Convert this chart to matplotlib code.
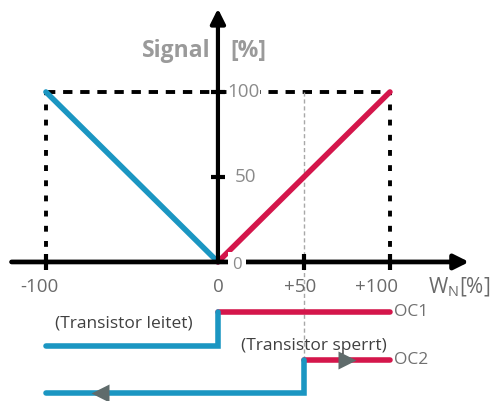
import matplotlib.pyplot as plt

plt.rcParams['font.family'] = ['Open Sans', 'DejaVu Sans']
plt.rcParams['mathtext.fontset'] = 'custom'
plt.rcParams['mathtext.rm'] = 'Open Sans'

blue = '#1b96c2'
red = '#d4164b'
grey_txt = '#8a8a8a'
arrow_grey = '#5f6b6b'

# characteristic: signal over W_N
wn_neg = [-100, 0]
sig_neg = [100, 0]
wn_pos = [0, 100]
sig_pos = [0, 100]

x_ticks = [-100, 0, 50, 100]
x_labels = ['-100', '0', '+50', '+100']
y_ticks = [50, 100]
y_labels = ['50', '100']

# switching points of the two outputs
oc1_switch = 0
oc2_switch = 50
wn_min, wn_max = -100, 100

fig = plt.figure(figsize=(5.04, 4.01), dpi=100)
ax = fig.add_axes([0, 0, 1, 1])
ax.set_xlim(-126.7, 166.3)
ax.set_ylim(-81.8, 154.1)
ax.axis('off')

# frame of dotted lines
ax.plot([wn_min, wn_max], [100, 100], color='black', lw=2.8, ls=(0, (2.4, 2.0)))
ax.plot([wn_min, wn_min], [0, 100], color='black', lw=2.8, ls=(0, (1.5, 2.4)))
ax.plot([wn_max, wn_max], [0, 100], color='black', lw=2.8, ls=(0, (1.5, 2.4)))
ax.plot([oc2_switch, oc2_switch], [-57.6, 100], color='#a8a8a8', lw=1.0, ls=(0, (3, 2)))

# axes with arrows
ax.annotate('', xy=(146, 0), xytext=(-120, 0),
            arrowprops=dict(arrowstyle='-|>', lw=3.4, color='black', mutation_scale=22,
                            shrinkA=0, shrinkB=0))
ax.annotate('', xy=(0, 149), xytext=(0, 0),
            arrowprops=dict(arrowstyle='-|>', lw=3.0, color='black', mutation_scale=22,
                            shrinkA=0, shrinkB=0))
for xt in [wn_min, oc2_switch, wn_max]:
    ax.plot(xt, 0, marker='|', ms=11, mew=3, color='black')
for yt in y_ticks:
    ax.plot(0, yt, marker='_', ms=10, mew=3, color='black')

# characteristic lines
ax.plot(wn_neg, sig_neg, color=blue, lw=4, solid_capstyle='round')
ax.plot(wn_pos, sig_pos, color=red, lw=4, solid_capstyle='round')

# tick labels
for xt, lab in zip(x_ticks, x_labels):
    dx = -4 if xt == -100 else (-2.5 if xt == 50 else (-8 if xt == 100 else 0))
    ax.text(xt + dx, -14.7, lab, ha='center', va='center', fontsize=13.5, color='#6a6a6a')
for yt, lab in zip(y_ticks, y_labels):
    ax.text(5.5 if yt == 100 else 9.5, yt, lab, ha='left', va='center', fontsize=13.5,
            color=grey_txt, bbox=dict(fc='white', ec='none', pad=0.5))
ax.text(11, -1.5, '0', ha='center', va='center', fontsize=12, color=grey_txt,
        bbox=dict(fc='white', ec='none', pad=3))
ax.text(-4.5, 124, 'Signal', ha='right', va='center', fontsize=16.5, fontweight='bold',
        color='#9a9a9a')
ax.text(7, 124, '[%]', ha='left', va='center', fontsize=16.5, fontweight='bold',
        color='#9a9a9a')
ax.text(122, -14.7, r'W$_\mathrm{N}$[%]', ha='left', va='center', fontsize=15,
        color='#6a6a6a')

# switching outputs
ax.plot([oc1_switch, wn_max], [-29.4, -29.4], color=red, lw=4, solid_capstyle='round')
ax.plot([wn_min, oc1_switch, oc1_switch], [-49.4, -49.4, -29.4], color=blue, lw=4,
        solid_capstyle='round', solid_joinstyle='miter')
ax.plot([oc2_switch, wn_max], [-57.6, -57.6], color=red, lw=4, solid_capstyle='round')
ax.plot([wn_min, oc2_switch, oc2_switch], [-77.1, -77.1, -57.6], color=blue, lw=4,
        solid_capstyle='round', solid_joinstyle='miter')
ax.plot(75, -57.6, marker='>', ms=13, color=arrow_grey, mec='none')
ax.plot(-68.6, -77.1, marker='<', ms=13, color=arrow_grey, mec='none')

ax.text(102.5, -29.4, 'OC1', ha='left', va='center', fontsize=12.5, color='#707070')
ax.text(102.5, -57.6, 'OC2', ha='left', va='center', fontsize=12.5, color='#707070')
ax.text(-54.7, -36, '(Transistor leitet)', ha='center', va='center', fontsize=12.5,
        color='#404040')
ax.text(55.8, -49.4, '(Transistor sperrt)', ha='center', va='center', fontsize=12.5,
        color='#404040')

fig.savefig('out.png', dpi=100)
